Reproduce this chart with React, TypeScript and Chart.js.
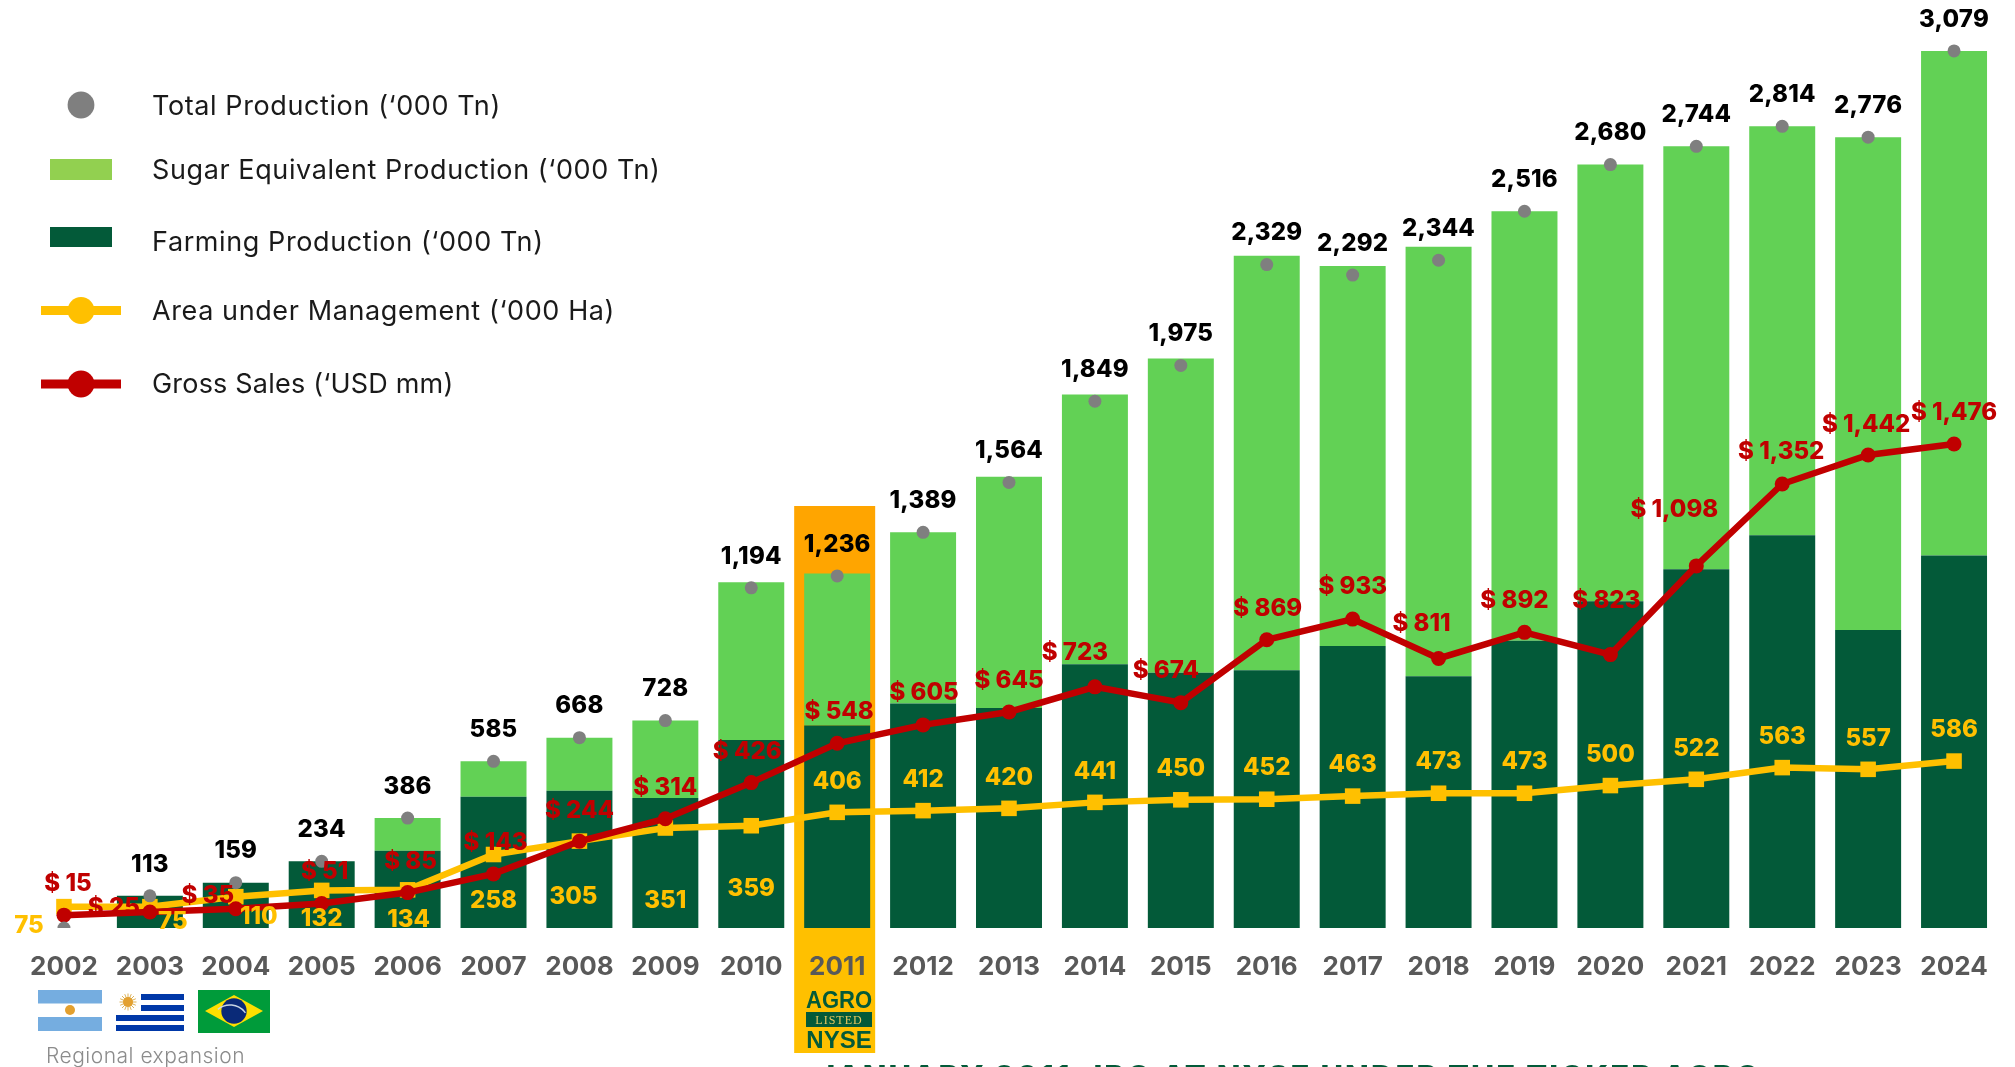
import React, { useEffect, useRef } from "react";
import { Chart, registerables } from "chart.js";

Chart.register(...registerables);

const years = ["2002","2003","2004","2005","2006","2007","2008","2009","2010","2011","2012","2013","2014","2015","2016","2017","2018","2019","2020","2021","2022","2023","2024"];
const totalProduction = [0,113,159,234,386,585,668,728,1194,1236,1389,1564,1849,1975,2329,2292,2344,2516,2680,2744,2814,2776,3079];
const farmingProduction = [0,113,159,234,271,461,482,456,660,711,788,772,926,896,905,990,884,1008,1147,1259,1379,1046,1308];
const sugarProduction = [0,0,0,0,115,124,186,272,554,533,601,812,947,1103,1455,1334,1507,1508,1533,1485,1435,1730,1771];
const areaManaged = [75,75,110,132,134,258,305,351,359,406,412,420,441,450,452,463,473,473,500,522,563,557,586];
const grossSales = [15,25,35,51,85,143,244,314,426,548,605,645,723,674,869,933,811,892,823,1098,1352,1442,1476];

const legendLabels = {
  total: "Total Production (‘000 Tn)",
  sugar: "Sugar Equivalent Production (‘000 Tn)",
  farming: "Farming Production (‘000 Tn)",
  area: "Area under Management (‘000 Ha)",
  sales: "Gross Sales (‘USD mm)",
};

const FONT = "Inter";
const GREEN = "#62D155";
const DARK = "#035A39";
const GOLD = "#FFC000";
const RED = "#C00000";
const GREY = "#7F7F7F";

// Label placement relative to each point (layout only)
const salesLabelShift: Record<string, [number, number]> = {
  "2002": [4, -31], "2003": [-36, -4], "2004": [-28, -13], "2005": [3, -32],
  "2006": [3, -31], "2007": [2, -31], "2010": [-4, -31], "2011": [2, -31], "2012": [1, -32],
  "2014": [-20, -34], "2015": [-15, -32], "2016": [1, -31], "2017": [0, -32], "2018": [-17, -35],
  "2019": [-10, -32], "2020": [-4, -54], "2021": [-22, -56], "2022": [-1, -32], "2023": [-2, -30], "2024": [0, -31],
};
const areaLabelShift: Record<string, [number, number]> = {
  "2002": [-35, 19], "2003": [23, 15], "2004": [23, 20], "2005": [0, 28], "2006": [1, 30],
  "2007": [0, 46], "2008": [-6, 56], "2009": [0, 73], "2010": [0, 63],
};

function text(ctx: CanvasRenderingContext2D, s: string, x: number, y: number, font: string, color: string, align: CanvasTextAlign = "center", spacing = "0px") {
  ctx.font = font;
  ctx.fillStyle = color;
  ctx.textAlign = align;
  ctx.textBaseline = "middle";
  (ctx as any).letterSpacing = spacing;
  ctx.fillText(s, x, y);
  (ctx as any).letterSpacing = "0px";
}

function drawSun(ctx: CanvasRenderingContext2D, x: number, y: number, r: number, rays: boolean) {
  if (rays) {
    ctx.strokeStyle = "#DDB35A";
    ctx.lineWidth = 1;
    for (let i = 0; i < 16; i++) {
      const a = (i / 16) * Math.PI * 2;
      ctx.beginPath();
      ctx.moveTo(x + Math.cos(a) * r * 0.5, y + Math.sin(a) * r * 0.5);
      ctx.lineTo(x + Math.cos(a) * r * 1.7, y + Math.sin(a) * r * 1.7);
      ctx.stroke();
    }
  }
  ctx.fillStyle = "#E3A02F";
  ctx.beginPath();
  ctx.arc(x, y, r, 0, Math.PI * 2);
  ctx.fill();
}

function drawFlags(ctx: CanvasRenderingContext2D) {
  ctx.fillStyle = "#75ADE0";
  ctx.fillRect(38, 990, 64, 13.5);
  ctx.fillRect(38, 1017, 64, 14);
  drawSun(ctx, 70, 1010, 5, false);

  ctx.fillStyle = "#0038A8";
  ctx.fillRect(141, 994, 43, 6);
  ctx.fillRect(141, 1005, 43, 6);
  ctx.fillRect(116, 1015, 68, 6);
  ctx.fillRect(116, 1025, 68, 6);
  drawSun(ctx, 128, 1002, 5, true);

  ctx.fillStyle = "#009B3A";
  ctx.fillRect(198, 990, 72, 43);
  ctx.fillStyle = "#FEDF00";
  ctx.beginPath();
  ctx.moveTo(205, 1011);
  ctx.lineTo(234, 995);
  ctx.lineTo(263, 1011);
  ctx.lineTo(234, 1027);
  ctx.closePath();
  ctx.fill();
  ctx.fillStyle = "#0A2A78";
  ctx.beginPath();
  ctx.arc(234, 1011, 12.7, 0, Math.PI * 2);
  ctx.fill();
  ctx.strokeStyle = "#C9D6E4";
  ctx.lineWidth = 1.5;
  ctx.beginPath();
  ctx.arc(230, 1024, 19, -Math.PI * 0.72, -Math.PI * 0.2);
  ctx.stroke();
  text(ctx, "Regional expansion", 46, 1057, `300 21px ${FONT}`, "#8C8C8C", "left", "0.5px");
}

const decorPlugin = {
  id: "decor",
  beforeDraw(chart: any) {
    const ctx: CanvasRenderingContext2D = chart.ctx;
    const cx = chart.scales.x.getPixelForValue(years.indexOf("2011"));
    const left = cx - 43, w = 81, top = 506, bottom = 1053;
    const g = ctx.createLinearGradient(0, top, 0, bottom);
    g.addColorStop(0, "#FFA500");
    g.addColorStop(0.35, "#FFA500");
    g.addColorStop(0.65, GOLD);
    g.addColorStop(1, GOLD);
    ctx.save();
    ctx.fillStyle = g;
    ctx.fillRect(left, top, w, bottom - top);
    ctx.restore();
  },
  afterDraw(chart: any) {
    const ctx: CanvasRenderingContext2D = chart.ctx;
    const xs = chart.scales.x, y = chart.scales.y, y1 = chart.scales.y1;
    ctx.save();
    years.forEach((yr, i) => {
      const px = xs.getPixelForValue(i);
      if (totalProduction[i] > 0) {
        text(ctx, totalProduction[i].toLocaleString("en-US"), px, y.getPixelForValue(totalProduction[i]) - 31.5, `800 24px ${FONT}`, "#000000", "center", "0.2px");
      }
      const a = areaLabelShift[yr] || [0, -31];
      text(ctx, String(areaManaged[i]), px + a[0], y.getPixelForValue(areaManaged[i]) + a[1], `800 24px ${FONT}`, GOLD);
      const s = salesLabelShift[yr] || [0, -31];
      text(ctx, "$ " + grossSales[i].toLocaleString("en-US"), px + s[0], y1.getPixelForValue(grossSales[i]) + s[1], `800 24px ${FONT}`, RED);
    });

    // legend
    const lf = `400 27px ${FONT}`;
    const sp = "0.6px";
    const tx = 152;
    ctx.fillStyle = GREY;
    ctx.beginPath(); ctx.ellipse(81, 105, 13.4, 13.4, 0, 0, Math.PI * 2); ctx.fill();
    text(ctx, legendLabels.total, tx, 107, lf, "#1A1A1A", "left", sp);
    ctx.fillStyle = "#92D050";
    ctx.fillRect(50, 159, 62, 21);
    text(ctx, legendLabels.sugar, tx, 171, lf, "#1A1A1A", "left", sp);
    ctx.fillStyle = DARK;
    ctx.fillRect(50, 227, 62, 20);
    text(ctx, legendLabels.farming, tx, 243, lf, "#1A1A1A", "left", sp);
    ctx.fillStyle = GOLD;
    ctx.fillRect(41, 306, 80, 9);
    ctx.beginPath(); ctx.arc(81, 310.5, 13.4, 0, Math.PI * 2); ctx.fill();
    text(ctx, legendLabels.area, tx, 312, lf, "#1A1A1A", "left", sp);
    ctx.fillStyle = RED;
    ctx.fillRect(41, 379.5, 80, 9);
    ctx.beginPath(); ctx.arc(81, 384, 13.4, 0, Math.PI * 2); ctx.fill();
    text(ctx, legendLabels.sales, tx, 385, lf, "#1A1A1A", "left", "0.2px");

    drawFlags(ctx);

    // NYSE badge
    ctx.font = `700 24px "Liberation Sans"`;
    ctx.fillStyle = DARK;
    ctx.textAlign = "center";
    ctx.textBaseline = "alphabetic";
    ctx.fillText("AGRO", 839, 1008, 66);
    ctx.fillText("NYSE", 839, 1048, 68);
    ctx.fillRect(806, 1012, 66, 15);
    ctx.font = `400 12px "Liberation Serif"`;
    ctx.fillStyle = "#E8C860";
    (ctx as any).letterSpacing = "1px";
    ctx.fillText("LISTED", 839, 1024);
    (ctx as any).letterSpacing = "0px";

    // caption, cut by the image's lower edge
    ctx.font = `800 31px ${FONT}`;
    ctx.fillStyle = DARK;
    ctx.textAlign = "left";
    (ctx as any).letterSpacing = "2.1px";
    ctx.fillText("JANUARY 2011: IPO AT NYSE UNDER THE TICKER AGRO", 817, 1087.5);
    (ctx as any).letterSpacing = "0px";
    ctx.restore();
  },
};

export default function App() {
  const ref = useRef<HTMLCanvasElement>(null);
  useEffect(() => {
    const chart = new Chart(ref.current as HTMLCanvasElement, {
      type: "bar",
      data: {
        labels: years,
        datasets: [
          { type: "line", label: legendLabels.total, data: totalProduction, showLine: false, yAxisID: "y", stack: "t", order: 1, pointRadius: 6.5, pointBackgroundColor: GREY, pointBorderWidth: 0 },
          { type: "line", label: legendLabels.sales, data: grossSales, yAxisID: "y1", stack: "s", order: 2, borderColor: RED, borderWidth: 6.5, pointRadius: 7.5, pointBackgroundColor: RED, pointBorderWidth: 0, tension: 0 },
          { type: "line", label: legendLabels.area, data: areaManaged, yAxisID: "y", stack: "a", order: 3, borderColor: GOLD, borderWidth: 6.5, pointStyle: "rect", pointRadius: 11, pointBackgroundColor: GOLD, pointBorderWidth: 0, tension: 0 },
          { type: "bar", label: legendLabels.farming, data: farmingProduction, yAxisID: "y", order: 4, backgroundColor: DARK, stack: "p", categoryPercentage: 1, barPercentage: 0.768 },
          { type: "bar", label: legendLabels.sugar, data: sugarProduction, yAxisID: "y", order: 5, backgroundColor: GREEN, stack: "p", categoryPercentage: 1, barPercentage: 0.768 },
        ] as any,
      },
      options: {
        animation: false,
        responsive: false,
        layout: { padding: { left: 21, right: 18, top: 0, bottom: 0 } },
        plugins: { legend: { display: false }, tooltip: { enabled: false } },
        scales: {
          x: {
            stacked: true,
            grid: { display: false, drawTicks: false },
            border: { display: false },
            ticks: { color: "#595959", padding: 24, maxRotation: 0, autoSkip: false, font: { family: FONT, size: 26, weight: 700 } },
            afterFit(s: any) { s.height = 139; },
          },
          y: { stacked: true, display: false, min: 0, max: 3219 },
          y1: { display: false, min: -24.8, max: 2818.6 },
        },
      } as any,
      plugins: [decorPlugin] as any,
    });
    return () => chart.destroy();
  }, []);
  return (
    <div style={{ position: "fixed", left: 0, top: 0, width: 2015, height: 1067, background: "#fff", overflow: "hidden" }}>
      <canvas ref={ref} width={2015} height={1067} style={{ display: "block" }} />
    </div>
  );
}
